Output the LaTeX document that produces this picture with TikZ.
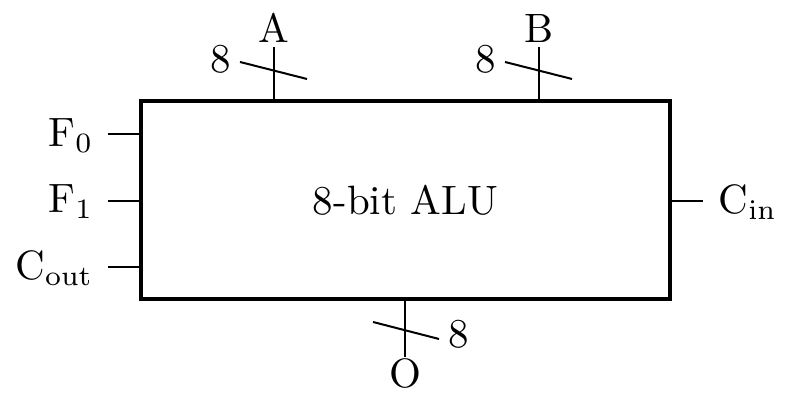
\documentclass[tikz,border=0pt]{standalone}
\begin{document}
\begin{tikzpicture}[x=0.25pt,y=-0.25pt,
  wire/.style={line width=0.5pt},
  lbl/.style={inner sep=0pt,font=\fontsize{10.25}{12}\selectfont},
  box/.style={draw,line width=0.85pt,inner sep=0pt,minimum width=132.25pt,minimum height=49.5pt,font=\fontsize{10.25}{12}\selectfont}]
\useasboundingbox (0,0) rectangle (792,402);
\node[box] (alu) at (405.5,200) {8-bit ALU};
% top A
\coordinate (pA) at (274,101); \coordinate (tA) at (274,47);
\node[lbl,anchor=base] (A) at (274,43) {A};
\draw[wire] (pA) -- (tA);
\coordinate (sA1) at (240,62); \coordinate (sA2) at (307,79);
\draw[wire] (sA1) -- (sA2);
\node[lbl,anchor=base] (nA) at (221,73) {8};
% top B
\coordinate (pB) at (539,101); \coordinate (tB) at (539,47);
\node[lbl,anchor=base] (B) at (539,43) {B};
\draw[wire] (pB) -- (tB);
\coordinate (sB1) at (505,62); \coordinate (sB2) at (572,79);
\draw[wire] (sB1) -- (sB2);
\node[lbl,anchor=base] (nB) at (486,73) {8};
% left
\coordinate (pF0) at (141,134); \coordinate (tF0) at (108,134);
\draw[wire] (pF0) -- (tF0);
\node[lbl,anchor=base east] (F0) at (94,147) {F$_0$};
\coordinate (pF1) at (141,201); \coordinate (tF1) at (108,201);
\draw[wire] (pF1) -- (tF1);
\node[lbl,anchor=base east] (F1) at (94,213) {F$_1$};
\coordinate (pCo) at (141,267); \coordinate (tCo) at (108,267);
\draw[wire] (pCo) -- (tCo);
\node[lbl,anchor=base east] (Co) at (94,280) {C$_\mathrm{out}$};
% right
\coordinate (pCi) at (670,201); \coordinate (tCi) at (703,201);
\draw[wire] (pCi) -- (tCi);
\node[lbl,anchor=base west] (Ci) at (718,214) {C$_\mathrm{in}$};
% bottom
\coordinate (pO) at (405,299); \coordinate (tO) at (405,357);
\draw[wire] (pO) -- (tO);
\node[lbl,anchor=base] (O) at (405,388) {O};
\coordinate (sO1) at (373,322); \coordinate (sO2) at (439,339);
\draw[wire] (sO1) -- (sO2);
\node[lbl,anchor=base] (nO) at (459,348) {8};
\end{tikzpicture}
\end{document}
